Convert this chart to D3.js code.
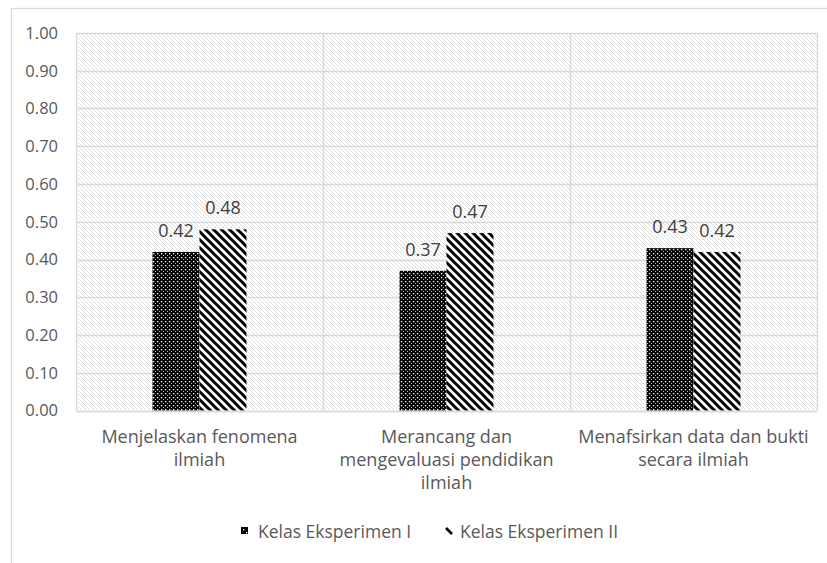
<!DOCTYPE html>
<html>
<head>
<meta charset="utf-8">
<script src="https://cdn.jsdelivr.net/npm/d3@7"></script>
<style>
  html, body { margin: 0; padding: 0; background: #fff; }
  svg { display: block; }
  text { font-family: "Open Sans", Lato, sans-serif; }
</style>
</head>
<body>
<div id="chart"></div>
<script>
// Skor per aspek kompetensi sains
const categories = [
  ["Menjelaskan fenomena", "ilmiah"],
  ["Merancang dan", "mengevaluasi pendidikan", "ilmiah"],
  ["Menafsirkan data dan bukti", "secara ilmiah"]
];
const seriesNames = ["Kelas Eksperimen I", "Kelas Eksperimen II"];
const kelasI = [0.42, 0.37, 0.43];
const kelasII = [0.48, 0.47, 0.42];
const yTicks = [0, 0.1, 0.2, 0.3, 0.4, 0.5, 0.6, 0.7, 0.8, 0.9, 1.0];

const W = 827, H = 563;
const plot = { left: 76, right: 817, top: 33, bottom: 410.5 };

const svg = d3.select("#chart").append("svg")
  .attr("width", W).attr("height", H);

const defs = svg.append("defs");

// light diagonal hatch for the plot background
const bg = defs.append("pattern").attr("id", "bgHatch")
  .attr("patternUnits", "userSpaceOnUse").attr("width", 4).attr("height", 4);
bg.append("rect").attr("width", 4).attr("height", 4).attr("fill", "#fff");
bg.append("path").attr("d", "M-1,-1 L5,5 M-1,3 L1,5 M3,-1 L5,1")
  .attr("stroke", "#dcdcdc").attr("stroke-width", 0.9);

// black fill with white dots
const dots = defs.append("pattern").attr("id", "dots")
  .attr("patternUnits", "userSpaceOnUse").attr("width", 4).attr("height", 4);
dots.append("rect").attr("width", 4).attr("height", 4).attr("fill", "#000");
dots.append("rect").attr("x", 1).attr("y", 1).attr("width", 1.3).attr("height", 1.3).attr("fill", "#fff");
dots.append("rect").attr("x", 3).attr("y", 3).attr("width", 1).attr("height", 1).attr("fill", "#bbb");

// wide downward diagonal stripes
const stripes = defs.append("pattern").attr("id", "stripes")
  .attr("patternUnits", "userSpaceOnUse").attr("width", 8).attr("height", 8);
stripes.append("rect").attr("width", 8).attr("height", 8).attr("fill", "#fff");
stripes.append("path").attr("d", "M-1,-1 L9,9 M-3,5 L3,11 M5,-3 L11,3")
  .attr("stroke", "#000").attr("stroke-width", 3);

// chart area border
svg.append("rect")
  .attr("x", 11.5).attr("y", 8.5).attr("width", 840).attr("height", 570)
  .attr("fill", "#fff").attr("stroke", "#d9d9d9").attr("stroke-width", 1.3);

const y = d3.scaleLinear().domain([0, 1]).range([plot.bottom, plot.top]);
const x0 = d3.scaleBand().domain(d3.range(categories.length))
  .range([plot.left, plot.right]);
const x1 = d3.scaleBand().domain(d3.range(seriesNames.length))
  .range([0, x0.bandwidth()]).paddingOuter(1.63).paddingInner(0);

// plot background
svg.append("rect")
  .attr("x", plot.left).attr("y", plot.top)
  .attr("width", plot.right - plot.left).attr("height", plot.bottom - plot.top)
  .attr("fill", "url(#bgHatch)");

// horizontal gridlines
svg.append("g").selectAll("line").data(yTicks).join("line")
  .attr("x1", plot.left).attr("x2", plot.right)
  .attr("y1", d => Math.round(y(d)) + 0.5).attr("y2", d => Math.round(y(d)) + 0.5)
  .attr("stroke", "#d9d9d9").attr("stroke-width", 1.3);

// vertical category dividers
const edges = d3.range(categories.length + 1).map(i => plot.left + i * x0.step());
svg.append("g").selectAll("line").data(edges).join("line")
  .attr("x1", d => Math.round(d) + 0.5).attr("x2", d => Math.round(d) + 0.5)
  .attr("y1", plot.top).attr("y2", plot.bottom)
  .attr("stroke", "#d9d9d9").attr("stroke-width", 1.3);

// y axis labels
const yAxis = d3.axisLeft(y).tickValues(yTicks).tickFormat(d3.format(".2f")).tickSize(0).tickPadding(18);
const gy = svg.append("g").attr("transform", `translate(${plot.left},0)`).call(yAxis);
gy.select(".domain").remove();
gy.selectAll("text").attr("fill", "#595959").style("font-size", "16.5px")
  .style("font-family", "'Open Sans', Lato, sans-serif");

// bars
const series = [kelasI, kelasII];
const fills = ["url(#dots)", "url(#stripes)"];
series.forEach((vals, s) => {
  svg.append("g").selectAll("rect").data(vals).join("rect")
    .attr("x", (d, i) => x0(i) + x1(s))
    .attr("y", d => y(d))
    .attr("width", x1.bandwidth())
    .attr("height", d => y(0) - y(d))
    .attr("fill", fills[s]);
  svg.append("g").selectAll("text").data(vals).join("text")
    .attr("x", (d, i) => x0(i) + x1(s) + x1.bandwidth() / 2)
    .attr("y", d => y(d) - 15)
    .attr("text-anchor", "middle")
    .attr("fill", "#404040").style("font-size", "18px")
    .text(d => d3.format(".2f")(d));
});

// baseline
svg.append("line")
  .attr("x1", plot.left).attr("x2", plot.right)
  .attr("y1", Math.round(y(0)) + 0.5).attr("y2", Math.round(y(0)) + 0.5)
  .attr("stroke", "#d9d9d9").attr("stroke-width", 1.5);

// category labels
const cat = svg.append("g").selectAll("text").data(categories).join("text")
  .attr("x", (d, i) => x0(i) + x0.bandwidth() / 2)
  .attr("y", 443)
  .attr("text-anchor", "middle")
  .attr("fill", "#595959").style("font-size", "18px");
cat.selectAll("tspan").data(d => d).join("tspan")
  .attr("x", function () { return d3.select(this.parentNode).attr("x"); })
  .attr("dy", (d, i) => i === 0 ? 0 : 23)
  .text(d => d);

// legend
const legend = svg.append("g").attr("transform", "translate(0,532)");
legend.append("rect").attr("x", 241).attr("y", -5).attr("width", 7).attr("height", 7).attr("fill", "#000");
legend.append("rect").attr("x", 243).attr("y", -3).attr("width", 1.3).attr("height", 1.3).attr("fill", "#fff");
legend.append("rect").attr("x", 246).attr("y", 0).attr("width", 1.3).attr("height", 1.3).attr("fill", "#fff");
legend.append("text").attr("x", 258).attr("y", 6).attr("fill", "#595959")
  .style("font-size", "17.5px").text(seriesNames[0]);
legend.append("line").attr("x1", 446).attr("y1", -4).attr("x2", 452).attr("y2", 2)
  .attr("stroke", "#000").attr("stroke-width", 2.6);
legend.append("text").attr("x", 460).attr("y", 6).attr("fill", "#595959")
  .style("font-size", "17.5px").text(seriesNames[1]);
</script>
</body>
</html>
